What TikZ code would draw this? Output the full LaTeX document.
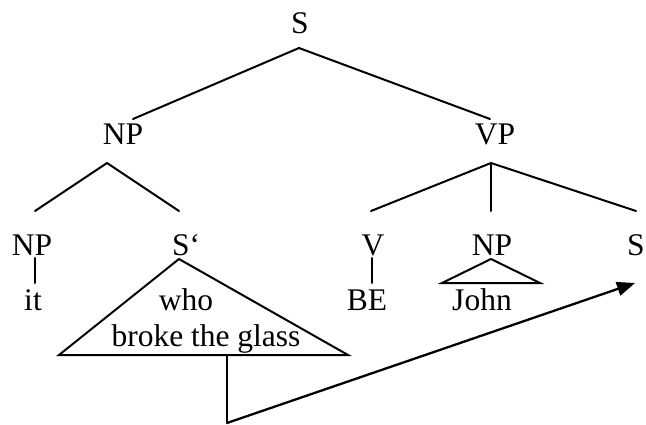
\documentclass[tikz,border=0pt]{standalone}
\usepackage{fontspec}
\setmainfont{Liberation Serif}
\usetikzlibrary{arrows.meta}
\begin{document}
\begin{tikzpicture}[x=1pt,y=-1pt,
  lbl/.style={anchor=base,inner sep=0pt,font=\fontsize{31.5}{36}\selectfont},
  lblw/.style={anchor=base west,inner sep=0pt,font=\fontsize{31.5}{36}\selectfont},
  edge/.style={line width=2pt,line cap=round,line join=miter},
  mover/.style={line width=2.3pt,-{Triangle[length=18pt,width=14pt]}}]
\useasboundingbox (0,0) rectangle (646,425);
% labels
\node[lbl] (S) at (300,34) {S};
\node[lbl] (NP1) at (123,145) {NP};
\node[lbl] (VP) at (495,145) {VP};
\node[lbl] (NP2) at (32,255) {NP};
\node[lblw] (Sb1) at (172,255) {S‘};
\node[lbl] (V) at (373,255) {V};
\node[lbl] (NP3) at (492,255) {NP};
\node[lblw] (Sb2) at (627,255) {S‘};
\node[lbl] (it) at (33,310) {it};
\node[lbl] (who) at (186,310) {who};
\node[lbl] (broke) at (206,346) {broke the glass};
\node[lbl] (BE) at (367,310) {BE};
\node[lbl] (John) at (482,310) {John};
% attachment points
\coordinate (S-b) at (299,48);
\coordinate (NP1-t) at (133,119);
\coordinate (VP-t) at (490,119);
\coordinate (NP1-b) at (107,163);
\coordinate (NP2-t) at (35,211);
\coordinate (Sb1-t) at (179,211);
\coordinate (VP-b) at (491,163);
\coordinate (V-t) at (371,211);
\coordinate (NP3-t) at (491,211);
\coordinate (Sb2-t) at (636,211);
\coordinate (NP2-b) at (35,258);
\coordinate (it-t) at (35,283);
\coordinate (V-b) at (372,258);
\coordinate (BE-t) at (372,283);
\coordinate (Sb1-b) at (179,259);
\coordinate (triL) at (59,355);
\coordinate (triR) at (348,355);
\coordinate (triM) at (227,355);
\coordinate (NP3-b) at (491,259);
\coordinate (jL) at (442,283);
\coordinate (jR) at (540,283);
\coordinate (trace) at (227,423);
\coordinate (target) at (635,283);
% branches
\draw[edge] (NP1-t) -- (S-b) -- (VP-t);
\draw[edge] (NP2-t) -- (NP1-b) -- (Sb1-t);
\draw[edge] (V-t) -- (VP-b) -- (Sb2-t);
\draw[edge] (VP-b) -- (NP3-t);
\draw[edge] (NP2-b) -- (it-t);
\draw[edge] (V-b) -- (BE-t);
\draw[edge] (Sb1-b) -- (triL) -- (triR) -- cycle;
\draw[edge] (NP3-b) -- (jL) -- (jR) -- cycle;
\draw[edge] (triM) -- (trace);
\draw[mover] (trace) -- (target);
\end{tikzpicture}
\end{document}
